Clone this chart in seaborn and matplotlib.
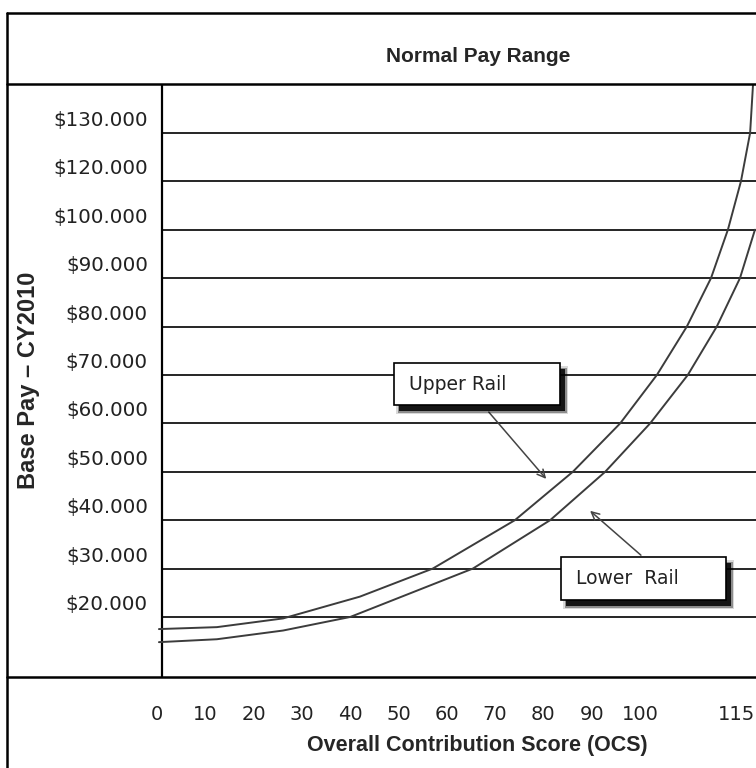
import matplotlib
matplotlib.use("Agg")
import matplotlib.pyplot as plt
import seaborn as sns
import pandas as pd
from matplotlib.lines import Line2D
from matplotlib.patches import Rectangle, FancyArrowPatch

# ---------------- data ----------------
title = "Normal Pay Range"
y_label = "Base Pay \u2013 CY2010"
x_label = "Overall Contribution Score (OCS)"

pay_labels = ["$20.000", "$30.000", "$40.000", "$50.000", "$60.000", "$70.000",
              "$80.000", "$90.000", "$100.000", "$120.000", "$130.000"]
pay_rows = [1, 2, 3, 4, 5, 6, 7, 8, 9, 10, 11]

ocs_labels = ["0", "10", "20", "30", "40", "50", "60", "70", "80", "90", "100", "115"]
ocs_cols = [0, 1, 2, 3, 4, 5, 6, 7, 8, 9, 10, 12]

# rail curves (x in label columns, y in pay rows)
upper_col = [0.04, 1.24, 2.61, 4.20, 5.71, 7.41, 8.61, 9.59, 10.35, 10.97,
             11.47, 11.82, 12.09, 12.28, 12.34]
upper_row = [0.75, 0.79, 0.97, 1.42, 2, 3, 4, 5, 6, 7, 8, 9, 10, 11, 12]

lower_col = [0.04, 1.24, 2.61, 4.0, 6.54, 8.14, 9.28, 10.21, 10.99, 11.59,
             12.07, 12.38]
lower_row = [0.48, 0.54, 0.72, 1, 2, 3, 4, 5, 6, 7, 8, 9]

callouts = ["Upper Rail", "Lower  Rail"]

# ---------------- figure ----------------
sns.set_style("white")
plt.rcParams["font.family"] = ["DejaVu Sans"]

W, H = 756, 768
COL = 48.3
fig = plt.figure(figsize=(W / 100, H / 100), dpi=100)
fig.patch.set_facecolor("white")


def fx(px):
    return px / W


def fy(py):
    return 1 - py / H


ax = fig.add_axes([fx(157), fy(677), (770 - 157) / W, (677 - 84) / H])
ax.set_facecolor("white")
ax.set_xlim(0, (770 - 157) / COL)
ax.set_ylim(-0.24, 12.01)

x_left = (162 - 157) / COL
ax.hlines(pay_rows, x_left, 20, color="black", lw=1.2, zorder=1)
ax.axvline(x_left, color="black", lw=1.6, zorder=1)

df = pd.concat([
    pd.DataFrame({"col": upper_col, "row": upper_row, "rail": "Upper"}),
    pd.DataFrame({"col": lower_col, "row": lower_row, "rail": "Lower"}),
])
sns.lineplot(data=df, x="col", y="row", hue="rail",
             palette={"Upper": "#3c3c3c", "Lower": "#3c3c3c"},
             estimator=None, legend=False, lw=1.4, ax=ax, zorder=2)

ax.set_yticks([r + 0.3 for r in pay_rows])
ax.set_yticklabels(pay_labels)
ax.set_xticks(ocs_cols)
ax.set_xticklabels(ocs_labels)
ax.tick_params(axis="y", length=0, pad=6.5, labelsize=14.3, labelcolor="#222222")
ax.tick_params(axis="x", length=0, pad=20, labelsize=14, labelcolor="#222222")
ax.set_xlabel("")
ax.set_ylabel("")
for s in ax.spines.values():
    s.set_visible(False)


# ---------------- table frame ----------------
def fline(x0, y0, x1, y1, lw=1.8):
    fig.add_artist(Line2D([fx(x0), fx(x1)], [fy(y0), fy(y1)],
                          transform=fig.transFigure, color="black", lw=lw))


fline(7, 13, 770, 13)
fline(7, 13, 7, 780)
fline(7, 84, 770, 84)
fline(7, 677, 770, 677)

# ---------------- texts ----------------
fig.text(fx(478), fy(56), title, ha="center", va="center",
         fontsize=15, fontweight="bold", family=["Liberation Sans", "DejaVu Sans"])
fig.text(fx(29), fy(380), y_label, ha="center", va="center", rotation=90,
         fontsize=17, fontweight="bold", family=["Liberation Sans", "DejaVu Sans"])
fig.text(fx(477), fy(746), x_label, ha="center", va="center",
         fontsize=15.5, fontweight="bold", family=["Liberation Sans", "DejaVu Sans"])


# ---------------- callouts ----------------
def callout(x0, y0, x1, y1, text, tx, ty, a_from, a_to):
    for grow, alpha in [(3, 0.15), (1.5, 0.35), (0, 0.85)]:
        fig.add_artist(Rectangle((fx(x0 + 5 - grow), fy(y1 + 6 + grow)),
                                 (x1 - x0 + 2 * grow) / W, (y1 - y0 + 2 * grow) / H,
                                 transform=fig.transFigure, facecolor="black",
                                 edgecolor="none", alpha=alpha, zorder=5))
    fig.add_artist(Rectangle((fx(x0), fy(y1)), (x1 - x0) / W, (y1 - y0) / H,
                             transform=fig.transFigure, facecolor="white",
                             edgecolor="black", lw=1.2, zorder=6))
    fig.text(fx(tx), fy(ty), text, ha="left", va="center", fontsize=13.5,
             color="#222222", zorder=7)
    fig.add_artist(FancyArrowPatch((fx(a_from[0]), fy(a_from[1])),
                                   (fx(a_to[0]), fy(a_to[1])),
                                   transform=fig.transFigure, arrowstyle="->",
                                   mutation_scale=14, color="#444444", lw=1.1,
                                   zorder=4))


callout(394, 363, 560, 405, callouts[0], 409, 385, (487, 410), (548, 481))
callout(561, 557, 726, 600, callouts[1], 576, 579, (643, 557), (588, 509))

fig.savefig("out.png", dpi=100, facecolor="white")
